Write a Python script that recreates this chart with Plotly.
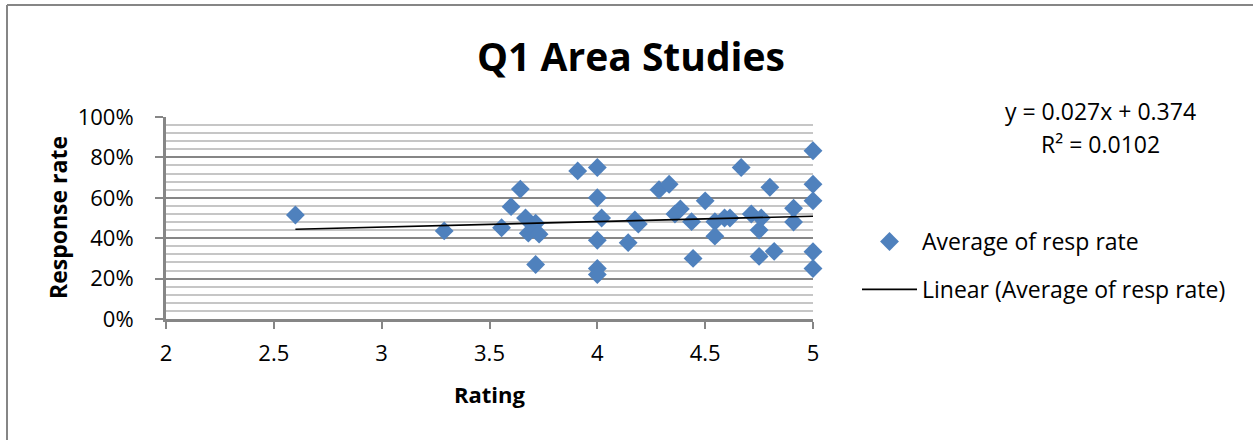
import plotly.graph_objects as go

# ---- data ----
rating = [2.6, 3.29, 3.556, 3.60, 3.643, 3.667, 3.714, 3.68, 3.73, 3.714,
          3.909, 4.0, 4.0, 4.02, 4.0, 4.0, 4.0, 4.143, 4.174, 4.19,
          4.286, 4.333, 4.36, 4.385, 4.437, 4.444, 4.5, 4.545, 4.545, 4.59,
          4.615, 4.667, 4.714, 4.75, 4.76, 4.75, 4.80, 4.82, 4.91, 4.91,
          5.0, 5.0, 5.0, 5.0, 5.0]
resp_rate = [0.515, 0.436, 0.452, 0.556, 0.643, 0.50, 0.474, 0.425, 0.42, 0.27,
             0.733, 0.75, 0.60, 0.50, 0.39, 0.25, 0.22, 0.378, 0.49, 0.47,
             0.64, 0.667, 0.52, 0.545, 0.482, 0.30, 0.585, 0.482, 0.41, 0.50,
             0.50, 0.75, 0.52, 0.44, 0.50, 0.31, 0.652, 0.335, 0.548, 0.48,
             0.833, 0.667, 0.585, 0.333, 0.25]
trend_slope = 0.027
trend_intercept = 0.374
trend_r2 = 0.0102
x_ticks = [2, 2.5, 3, 3.5, 4, 4.5, 5]
x_tick_text = ["2", "2.5", "3", "3.5", "4", "4.5", "5"]
y_ticks = [0, 0.2, 0.4, 0.6, 0.8, 1.0]
y_tick_text = ["0%", "20%", "40%", "60%", "80%", "100%"]

FONT = "Open Sans"
BLUE = "#4F81BD"
GRAY = "#868686"

trend_x = [min(rating), max(rating)]
trend_y = [trend_slope * v + trend_intercept for v in trend_x]

fig = go.Figure()
fig.add_trace(go.Scatter(
    x=rating, y=resp_rate, mode="markers", name="Average of resp rate",
    marker=dict(symbol="diamond", size=14.5, color=BLUE, line=dict(width=0)),
    legendgroup="a", cliponaxis=False,
))
fig.add_trace(go.Scatter(
    x=trend_x, y=trend_y, mode="lines", name="Linear (Average of resp rate)",
    line=dict(color="black", width=1.6), legendgroup="b",
))

W, H = 1253, 440
L, R, T, B = 166, 440, 117, 121
pw, ph = W - L - R, H - T - B

def px_x(p):
    return (p - L) / pw

def px_y(p):
    return (H - B - p) / ph

fig.update_layout(
    width=W, height=H,
    margin=dict(l=L, r=R, t=T, b=B, autoexpand=False),
    paper_bgcolor="white", plot_bgcolor="white",
    font=dict(family=FONT, color="black", size=22),
    title=dict(text="<b>Q1 Area Studies</b>", x=631 / W, xanchor="center",
               y=1 - 57 / H, yanchor="middle", yref="container",
               font=dict(family=FONT, size=39, color="black")),
    showlegend=True,
    legend=dict(x=px_x(857), xanchor="left", y=px_y(220), yanchor="top",
                font=dict(family=FONT, size=23, color="black"),
                itemwidth=55, tracegroupgap=15, traceorder="grouped",
                bgcolor="rgba(0,0,0,0)"),
    xaxis=dict(range=[2, 5], tickvals=x_ticks, ticktext=x_tick_text,
               showgrid=False, zeroline=False,
               showline=True, linecolor=GRAY, linewidth=3,
               ticks="outside", ticklen=7, tickwidth=2, tickcolor=GRAY,
               tickfont=dict(family=FONT, size=22, color="black"),
               ticklabelstandoff=6, fixedrange=True),
    yaxis=dict(range=[0, 1], tickvals=y_ticks, ticktext=y_tick_text,
               showgrid=True, gridcolor=GRAY, gridwidth=2,
               minor=dict(dtick=0.04, showgrid=True, gridcolor="#C6C6C6", gridwidth=2),
               zeroline=False,
               showline=True, linecolor=GRAY, linewidth=3,
               ticks="outside", ticklen=8, tickwidth=2, tickcolor=GRAY,
               tickfont=dict(family=FONT, size=22, color="black"),
               ticklabelstandoff=17, fixedrange=True),
    annotations=[
        dict(text=f"y = {trend_slope}x + {trend_intercept}", x=px_x(1100), y=px_y(111),
             xref="paper", yref="paper", showarrow=False, xanchor="center", yanchor="middle",
             font=dict(family=FONT, size=23, color="black")),
        dict(text=f"R² = {trend_r2}", x=px_x(1100), y=px_y(144),
             xref="paper", yref="paper", showarrow=False, xanchor="center", yanchor="middle",
             font=dict(family=FONT, size=23, color="black")),
        dict(text="<b>Response rate</b>", x=px_x(58), y=px_y(217), textangle=-90,
             xref="paper", yref="paper", showarrow=False, xanchor="center", yanchor="middle",
             font=dict(family=FONT, size=23, color="black")),
        dict(text="<b>Rating</b>", x=px_x(490), y=px_y(394),
             xref="paper", yref="paper", showarrow=False, xanchor="center", yanchor="middle",
             font=dict(family=FONT, size=22, color="black")),
    ],
    shapes=[
        dict(type="line", xref="paper", yref="paper", x0=px_x(7), x1=px_x(W + 20),
             y0=px_y(5), y1=px_y(5), line=dict(color=GRAY, width=2)),
        dict(type="line", xref="paper", yref="paper", x0=px_x(7), x1=px_x(7),
             y0=px_y(5), y1=px_y(H + 20), line=dict(color=GRAY, width=2)),
    ],
)

fig.write_html("out.html", config={"displayModeBar": False},
               post_script="document.body.style.margin='0';")
